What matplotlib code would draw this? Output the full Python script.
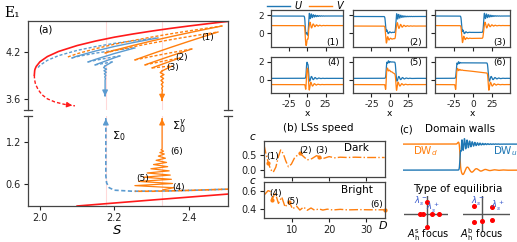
import numpy as np
import matplotlib
matplotlib.use('Agg')
import matplotlib.pyplot as plt
from matplotlib.lines import Line2D

# ---------------- data ----------------
# (a) saddle-node curve (upper branch) and its lower dashed continuation
red_S = [1.985, 1.986, 1.987, 1.99, 2.0, 2.02, 2.05, 2.1, 2.15, 2.2, 2.25, 2.3, 2.35, 2.4, 2.45, 2.505]
red_E = [3.906, 3.963, 3.981, 4.014, 4.074, 4.141, 4.206, 4.282, 4.340, 4.389, 4.430, 4.467, 4.501, 4.532, 4.561, 4.591]
redlow_S = [1.985, 1.9855, 1.988, 1.995, 2.005, 2.02, 2.04, 2.065, 2.094]
redlow_E = [3.906, 3.85, 3.79, 3.72, 3.655, 3.60, 3.56, 3.53, 3.51]
red_bottom_S = [2.10, 2.30, 2.505]
red_bottom_E = [0.29, 0.375, 0.46]

# snaking turning points (dark solitons): blue and orange families
blue_turn_S = [1.995, 2.317, 2.086, 2.255, 2.129, 2.215, 2.148, 2.194, 2.175]
blue_turn_E = [4.00, 4.379, 4.123, 4.251, 4.072, 4.149, 4.034, 4.072, 4.021]
orange_turn_S = [2.075, 2.489, 2.175, 2.478, 2.255, 2.408, 2.282, 2.376, 2.301, 2.355, 2.328]
orange_turn_E = [4.136, 4.532, 4.187, 4.455, 4.098, 4.238, 4.034, 4.123, 3.996, 4.021, 3.957]

blue_wig_S = [2.175, 2.171, 2.179, 2.172, 2.178, 2.173, 2.177, 2.174, 2.176, 2.175, 2.175]
blue_wig_E = [4.021, 4.00, 3.98, 3.96, 3.94, 3.92, 3.90, 3.88, 3.86, 3.84, 3.64]
orange_wig_S = [2.328, 2.323, 2.333, 2.324, 2.332, 2.325, 2.331, 2.326, 2.330, 2.327, 2.329, 2.328, 2.328]
orange_wig_E = [3.957, 3.935, 3.91, 3.885, 3.86, 3.835, 3.81, 3.785, 3.76, 3.735, 3.71, 3.69, 3.58]

# lower part of (a): Sigma_0 (blue dashed) and Sigma_0^gamma (orange)
sig0_S = [2.177, 2.177, 2.179, 2.186, 2.20, 2.25, 2.35, 2.45, 2.505]
sig0_E = [1.50, 0.72, 0.62, 0.55, 0.515, 0.50, 0.505, 0.52, 0.53]
sigg_S = [2.328, 2.328, 2.325, 2.332, 2.322, 2.334, 2.318, 2.337, 2.312, 2.340, 2.305, 2.343,
          2.298, 2.347, 2.288, 2.350, 2.278, 2.353, 2.265, 2.356, 2.255, 2.360, 2.330]
sigg_E = [1.50, 1.10, 1.09, 1.07, 1.05, 1.03, 1.00, 0.97, 0.94, 0.91, 0.88, 0.85,
          0.82, 0.79, 0.76, 0.73, 0.70, 0.67, 0.64, 0.61, 0.58, 0.55, 0.52]
siggd_S = [2.255, 2.30, 2.35, 2.40, 2.45, 2.505]
siggd_E = [0.50, 0.50, 0.505, 0.512, 0.52, 0.53]
S_marks = [2.177, 2.328]

# (b) speeds
dark_D = [2.4, 3.0, 3.6, 4.2, 4.9, 5.6, 6.3, 6.9, 7.6, 8.3, 9.0, 9.8, 10.7, 12.1, 13.1, 14.1,
          15.3, 16.6, 17.3, 18.0, 19.0, 20.0, 21.5, 23, 25, 27, 30, 33, 35]
dark_c = [0.84, 0.50, 0.23, 0.02, -0.07, 0.10, 0.45, 0.67, 0.55, 0.30, 0.11, 0.20, 0.42, 0.56, 0.45, 0.34,
          0.38, 0.48, 0.45, 0.37, 0.41, 0.45, 0.41, 0.43, 0.42, 0.43, 0.42, 0.42, 0.42]
bright_D = [2.4, 3.5, 4.2, 4.6, 5.4, 6.3, 7.2, 8.1, 9.2, 10.1, 11.2, 12.1, 13.1, 14.1, 15.1, 16.1,
            17.2, 18.3, 19.5, 21, 23, 25, 28, 31, 35]
bright_c = [0.55, 0.60, 0.59, 0.50, 0.58, 0.46, 0.53, 0.42, 0.48, 0.40, 0.43, 0.387, 0.42, 0.385, 0.41, 0.385,
            0.40, 0.387, 0.397, 0.388, 0.395, 0.389, 0.392, 0.39, 0.39]
dark_mark_D = [3.6, 12.1, 17.3]
bright_mark_D = [4.6, 9.2, 35]

# profile parameters (1)-(6): fronts and levels
prof_names = ['(1)', '(2)', '(3)', '(4)', '(5)', '(6)']
prof_kind = ['dark', 'dark', 'dark', 'bright', 'bright', 'bright']
prof_xL = [-3, -6, -15, -1.5, -5, -22]
prof_xR = [1.5, 8, 14, 1.5, 8, 20]
prof_Uout = [1.9, 1.85, 1.9, 0.15, 0.15, 0.15]
prof_Uin = [-0.2, 0.1, 0.1, 2.0, 2.0, 1.9]
prof_Vout = [0.85, 0.8, 0.85, -0.55, -0.55, -0.55]
prof_Vin_left = [-0.9, -0.6, -0.55, 1.3, 1.25, 1.15]
prof_Vin_right = [-0.9, -0.6, -0.55, 1.1, 0.6, 0.75]

# equilibria (c)
eqL_re = [-6.7, -4.0, 5.3, 12.0, 0, 0]
eqL_im = [0, 0, 0, 0, 12.3, -12.7]
eqR_re = [-7.7, 10.6, -7.7, 0, 10.6]
eqR_im = [7.3, 6.3, -7.7, -7.0, -6.0]

# ---------------- figure ----------------
W, H = 517, 242
fig = plt.figure(figsize=(W / 100, H / 100), dpi=100)


def ax_px(l, t, r, b):
    return fig.add_axes([l / W, 1 - b / H, (r - l) / W, (b - t) / H])


BLUE = '#1f77b4'
LBLUE = '#5b9bd0'
ORANGE = '#ff7f0e'
RED = '#ff1a1a'
SPC = '#444444'


def style_spines(ax):
    for s in ax.spines.values():
        s.set_color(SPC)
        s.set_linewidth(0.9)
    ax.tick_params(colors='#222222', labelsize=7, length=3, width=0.8, pad=2)


def red_at(S):
    return np.interp(S, red_S, red_E)


def branch(ax, S0, E0, S1, E1, color, ls):
    S = np.linspace(S0, S1, 80)
    o0 = red_at(S0) - E0
    o1 = red_at(S1) - E1
    E = red_at(S) - (o0 + (o1 - o0) * (S - S0) / (S1 - S0))
    if ls == '--':
        ax.plot(S, E, color=color, lw=1.0, ls=(0, (2.2, 1.4)))
    else:
        ax.plot(S, E, color=color, lw=1.0)


# ---- (a) upper ----
axU = ax_px(28, 21, 228, 110)
axL = ax_px(28, 116, 228, 206)
xl = (1.968, 2.505)
for a in (axU, axL):
    a.set_xlim(*xl)
    style_spines(a)
axU.set_ylim(3.457, 4.596)
axL.set_ylim(0.29, 1.571)
axU.spines['bottom'].set_visible(False)
axL.spines['top'].set_visible(False)
axU.set_xticks([])
axU.set_yticks([3.6, 4.2])
axU.set_yticklabels(['3.6', '4.2'])
axL.set_yticks([0.6, 1.2])
axL.set_yticklabels(['0.6', '1.2'])
axL.set_xticks([2.0, 2.2, 2.4])
axL.set_xticklabels(['2.0', '2.2', '2.4'])
for a, yy in ((axU, 0.0), (axL, 1.0)):
    for xx in (0.0, 1.0):
        a.add_line(Line2D([xx - 0.018, xx + 0.018], [yy, yy], transform=a.transAxes,
                          color=SPC, lw=0.9, clip_on=False))

for Sm in S_marks:
    axU.axvline(Sm, color='red', alpha=0.15, lw=0.8)
    axL.axvline(Sm, color='red', alpha=0.15, lw=0.8)

axU.plot(red_S, red_E, color=RED, lw=1.2)
axU.plot(redlow_S, redlow_E, color=RED, lw=1.0, ls=(0, (2.5, 1.5)))
axU.annotate('', xy=(redlow_S[-1], redlow_E[-1]), xytext=(redlow_S[-2], redlow_E[-2]),
             arrowprops=dict(arrowstyle='-|>', color=RED, lw=0.8, mutation_scale=8))

for i in range(len(blue_turn_S) - 1):
    branch(axU, blue_turn_S[i], blue_turn_E[i], blue_turn_S[i + 1], blue_turn_E[i + 1],
           LBLUE, '--' if i % 2 == 0 else '-')
for i in range(len(orange_turn_S) - 1):
    branch(axU, orange_turn_S[i], orange_turn_E[i], orange_turn_S[i + 1], orange_turn_E[i + 1],
           ORANGE, '--' if i % 2 == 0 else '-')
axU.plot(blue_wig_S, blue_wig_E, color=LBLUE, lw=1.0)
axU.annotate('', xy=(blue_wig_S[-1], 3.60), xytext=(blue_wig_S[-1], 3.68),
             arrowprops=dict(arrowstyle='-|>', color=LBLUE, lw=1.0, mutation_scale=8))
axU.plot(orange_wig_S, orange_wig_E, color=ORANGE, lw=1.0)
axU.annotate('', xy=(orange_wig_S[-1], 3.545), xytext=(orange_wig_S[-1], 3.62),
             arrowprops=dict(arrowstyle='-|>', color=ORANGE, lw=1.0, mutation_scale=8))

axU.text(0.05, 0.9, '(a)', transform=axU.transAxes, fontsize=7.5, va='center')
axU.text(2.449, 4.379, '(1)', fontsize=6.5, ha='center', va='center')
axU.text(2.381, 4.123, '(2)', fontsize=6.5, ha='center', va='center')
axU.text(2.357, 3.996, '(3)', fontsize=6.5, ha='center', va='center')

# ---- (a) lower ----
axL.plot(red_bottom_S, red_bottom_E, color=RED, lw=1.2)
axL.plot(sig0_S, sig0_E, color=LBLUE, lw=1.2, ls=(0, (2.5, 1.5)))
axL.plot(siggd_S, siggd_E, color=ORANGE, lw=1.2, ls=(2, (2.5, 1.5)))
axL.plot(sigg_S, sigg_E, color=ORANGE, lw=0.9)
axL.annotate('', xy=(sig0_S[0], 1.57), xytext=(sig0_S[0], 1.49),
             arrowprops=dict(arrowstyle='-|>', color=LBLUE, lw=1.0, mutation_scale=8))
axL.annotate('', xy=(sigg_S[0], 1.57), xytext=(sigg_S[0], 1.49),
             arrowprops=dict(arrowstyle='-|>', color=ORANGE, lw=1.0, mutation_scale=8))
axL.text(2.194, 1.29, r'$\Sigma_0$', fontsize=8, va='center')
axL.text(2.355, 1.41, r'$\Sigma_0^\gamma$', fontsize=8, va='center')
axL.text(2.349, 1.067, '(6)', fontsize=6.5, va='center')
axL.text(2.277, 0.68, '(5)', fontsize=6.5, ha='center', va='center')
axL.text(2.372, 0.56, '(4)', fontsize=6.5, ha='center', va='center')

fig.text(4 / W, 1 - 13 / H, 'E₁', family='DejaVu Serif', fontsize=10, va='center')
fig.text(117 / W, 1 - 230 / H, r'$S$', fontsize=9.5, ha='center', va='center')

# ---- profiles ----
x = np.linspace(-50, 49, 2500)


def step(z, z0, w=0.7):
    return 0.5 * (1 + np.tanh((z - z0) / w))


def damp(z, z0, amp, lam, per, side=1):
    s = side * (z - z0)
    return np.where(s > 0, amp * np.exp(-np.clip(s, 0, None) / lam) * np.sin(2 * np.pi * s / per), 0.0)


def gauss(z, z0, w):
    return np.exp(-((z - z0) / w) ** 2)


cols = [(271, 343), (353, 426), (435, 510)]
rows = [(10, 47), (57, 93)]
for k in range(6):
    r, c = divmod(k, 3)
    ax = ax_px(cols[c][0], rows[r][0], cols[c][1], rows[r][1])
    style_spines(ax)
    ax.tick_params(labelsize=6.5)
    xL, xR = prof_xL[k], prof_xR[k]
    inside = step(x, xL) - step(x, xR)
    if prof_kind[k] == 'dark':
        U = prof_Uout[k] + (prof_Uin[k] - prof_Uout[k]) * inside
        U += damp(x, xR + 0.5, 0.4, 6, 2.8) + damp(x, xL + 1, 0.35, 3, 4) * (x < xR)
        Vin = prof_Vin_left[k]
        V = prof_Vout[k] + (Vin - prof_Vout[k]) * inside
        V += -0.5 * gauss(x, xL + 1.2, 1.0) + damp(x, xL + 2, 0.35, 3, 4) * (x < xR)
        V += damp(x, xR + 1, 0.45, 6, 4.5)
    else:
        U = prof_Uout[k] + (prof_Uin[k] - prof_Uout[k]) * inside
        U += damp(x, xR + 0.5, -0.4, 6, 5) + 0.15 * np.sin(2 * np.pi * (x - xL) / 2.5) * inside * gauss(x, xL + 2, 3)
        Vl, Vr = prof_Vin_left[k], prof_Vin_right[k]
        Vin = Vl + (Vr - Vl) * np.clip((x - xL) / max(xR - xL, 1e-6), 0, 1)
        V = prof_Vout[k] + (Vin - prof_Vout[k]) * inside
        V += -0.75 * gauss(x, xL - 0.6, 0.8) - 0.7 * gauss(x, xR + 1.0, 0.9)
        V += damp(x, xR + 2, 0.35, 5, 5) + 0.2 * damp(x, xL + 1, 1, 3, 3) * (x < xR)
    ax.plot(x, U, color=BLUE, lw=0.9)
    ax.plot(x, V, color=ORANGE, lw=0.9)
    ax.set_xlim(-50, 49)
    ax.set_ylim(-1.5, 2.56)
    ax.set_xticks([-25, 0, 25])
    ax.set_yticks([0, 2])
    if r == 0:
        ax.set_xticklabels([])
        ax.text(0.95, 0.12, prof_names[k], transform=ax.transAxes, fontsize=6.5, ha='right', va='center')
    else:
        ax.set_xticklabels(['-25', '0', '25'])
        ax.set_xlabel('x', fontsize=6.5, labelpad=0)
        ax.text(0.95, 0.86, prof_names[k], transform=ax.transAxes, fontsize=6.5, ha='right', va='center')
    if c != 0:
        ax.set_yticklabels([])

fig.legend([Line2D([], [], color=BLUE, lw=1), Line2D([], [], color=ORANGE, lw=1)],
           [r'$U$', r'$V$'], loc='center', bbox_to_anchor=(306 / W, 1 - 5 / H), ncol=2,
           frameon=False, fontsize=7, handlelength=2.4, handletextpad=0.4, columnspacing=0.6,
           borderpad=0, borderaxespad=0)

# ---- (b) speeds ----
axD = ax_px(264, 141, 385, 177)
axB = ax_px(264, 182, 385, 218)
for a in (axD, axB):
    style_spines(a)
    a.set_xlim(2.4, 35.1)
    a.set_xticks([10, 20, 30])
axD.set_xticklabels([])
axB.set_xticklabels(['10', '20', '30'])
axD.set_ylim(-0.23, 0.97)
axD.set_yticks([0.0, 0.5])
axD.set_yticklabels(['0.0', '0.5'])
axB.set_ylim(0.30, 0.695)
axB.set_yticks([0.4, 0.6])
axB.set_yticklabels(['0.4', '0.6'])
axD.plot(dark_D, dark_c, color=ORANGE, lw=1.0, ls='-.')
axB.plot(bright_D, bright_c, color=ORANGE, lw=1.0, ls='-.')
axD.plot(dark_mark_D, np.interp(dark_mark_D, dark_D, dark_c), 'o', color=ORANGE, ms=2)
axB.plot(bright_mark_D, np.interp(bright_mark_D, bright_D, bright_c), 'o', color=ORANGE, ms=2, clip_on=False)
axD.text(4.6, 0.47, '(1)', fontsize=6.5, ha='center', va='center')
axD.text(13.5, 0.64, '(2)', fontsize=6.5, ha='center', va='center')
axD.text(18.1, 0.64, '(3)', fontsize=6.5, ha='center', va='center')
axB.text(5.6, 0.573, '(4)', fontsize=6.5, ha='center', va='center')
axB.text(10.2, 0.486, '(5)', fontsize=6.5, ha='center', va='center')
axB.text(32.9, 0.453, '(6)', fontsize=6.5, ha='center', va='center')
axD.text(0.76, 0.8, 'Dark', transform=axD.transAxes, fontsize=7.5, ha='center', va='center')
axB.text(0.77, 0.78, 'Bright', transform=axB.transAxes, fontsize=7.5, ha='center', va='center')
fig.text(253 / W, 1 - 137 / H, r'$c$', fontsize=7.5, ha='center', va='center')
fig.text(253 / W, 1 - 181 / H, r'$c$', fontsize=7.5, ha='center', va='center')
fig.text(383 / W, 1 - 225 / H, r'$D$', fontsize=8, ha='center', va='center')
fig.text(318 / W, 1 - 128 / H, '(b) LSs speed', fontsize=7.5, ha='center', va='center')

# ---- (c) domain walls ----
fig.text(406 / W, 1 - 129 / H, '(c)', fontsize=7.5, ha='center', va='center')
fig.text(460 / W, 1 - 129 / H, 'Domain walls', fontsize=7.5, ha='center', va='center')
axW = ax_px(403, 135, 517, 180)
axW.axis('off')
xd = np.linspace(-57, 57, 2000)
dw_orange = 1 - step(xd, 0, 0.6) + 0.08 * gauss(xd, -1.5, 1.2) + damp(xd, 0.8, -0.2, 12, 9)
dw_blue = step(xd, 0, 0.6) - 0.25 * gauss(xd, 1.2, 0.8) + damp(xd, 1.2, 0.3, 9, 2.6)
axW.plot(xd, dw_orange, color=ORANGE, lw=1.0)
axW.plot(xd, dw_blue, color=BLUE, lw=1.0)
axW.set_xlim(-57, 57)
axW.set_ylim(-0.38, 1.35)
axW.text(-35, 0.75, r'DW$_d$', color=ORANGE, fontsize=7.5, ha='center', va='center')
axW.text(45, 0.72, r'DW$_u$', color=BLUE, fontsize=7.5, ha='center', va='center')

# ---- (c) equilibria ----
fig.text(458 / W, 1 - 189 / H, 'Type of equilibria', fontsize=7.5, ha='center', va='center')
axE1 = ax_px(404, 196, 448, 229)
axE1.set_xlim(-22.7, 21.3)
axE1.set_ylim(-15, 18)
axE2 = ax_px(463, 196, 510, 232)
axE2.set_xlim(-18.7, 28.3)
axE2.set_ylim(-17.7, 17.3)
for a, re, im in ((axE1, eqL_re, eqL_im), (axE2, eqR_re, eqR_im)):
    a.axis('off')
    a.axhline(0, color='#555555', lw=1.0)
    a.axvline(0, color='#555555', lw=1.0)
    a.plot(re, im, 'o', color='red', ms=2.6, ls='none', clip_on=False)
LAM = '#3355cc'
axE1.text(-5.5, 12.5, r'$\lambda_s^-$', color=LAM, fontsize=6, ha='center', va='center')
axE1.text(6.5, 6.5, r'$\lambda_s^+$', color=LAM, fontsize=6, ha='center', va='center')
axE2.text(-3.5, 12, r'$\lambda_s^-$', color=LAM, fontsize=6, ha='center', va='center')
axE2.text(16.5, 8, r'$\lambda_s^+$', color=LAM, fontsize=6, ha='center', va='center')
fig.text(428 / W, 1 - 235 / H, r'$A^{\rm s}_{\rm h}$ focus', fontsize=7, ha='center', va='center')
fig.text(482 / W, 1 - 235 / H, r'$A^{\rm b}_{\rm h}$ focus', fontsize=7, ha='center', va='center')

fig.savefig('out.png', dpi=100)
